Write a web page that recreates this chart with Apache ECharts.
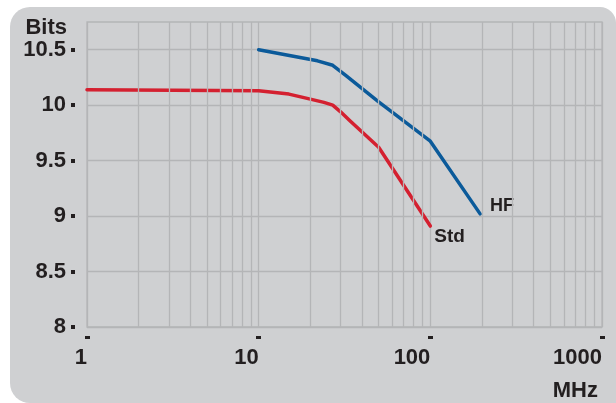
<!DOCTYPE html>
<html>
<head>
<meta charset="utf-8">
<script src="https://cdn.jsdelivr.net/npm/echarts@6/dist/echarts.min.js"></script>
<style>
  html, body { margin: 0; padding: 0; background: #ffffff; }
  #bg { position: absolute; left: 10px; top: 7px; width: 606px; height: 396px; border-radius: 20px 16px 0 20px; background: #cfd0d2; }
  #chart { position: absolute; left: 0; top: 0; width: 616px; height: 403px; }
</style>
</head>
<body>
<div id="bg"></div>
<div id="chart"></div>
<script>
// Data
const freqStd = [1, 10, 15, 20, 24, 27, 30, 34, 50, 100];
const bitsStd = [10.14, 10.13, 10.10, 10.055, 10.025, 10.0, 9.94, 9.86, 9.62, 8.91];
const freqHF = [10, 22, 27, 32, 50, 100, 195];
const bitsHF = [10.5, 10.40, 10.36, 10.27, 10.03, 9.675, 9.02];
const yTickValues = [8, 8.5, 9, 9.5, 10, 10.5];
const minorGridValues = [2, 3, 4, 5, 6, 7, 8, 9, 20, 30, 40, 50, 60, 70, 80, 90, 200, 300, 400, 500, 600, 700, 800, 900];
const seriesNames = ['Std', 'HF'];

const FONT = "'Liberation Sans', Arial, sans-serif";
const TEXT = '#231f20';
const GRID = '#b4b5b7';

const chart = echarts.init(document.getElementById('chart'), null, { renderer: 'canvas' });

const pairs = (xs, ys) => xs.map((x, i) => [x, ys[i]]);

chart.setOption({
  backgroundColor: 'transparent',
  animation: false,
  grid: {
    left: 87, right: 14, top: 22, bottom: 76,
    show: true, borderColor: GRID, borderWidth: 1.3, backgroundColor: 'transparent'
  },
  xAxis: {
    type: 'log',
    logBase: 10,
    min: 1,
    max: 1000,
    offset: 9,
    name: 'MHz',
    nameLocation: 'end',
    nameGap: -4,
    nameTextStyle: {
      fontFamily: FONT, fontWeight: 'bold', fontSize: 22, color: TEXT,
      align: 'right', verticalAlign: 'top', padding: [44, 0, 0, 0]
    },
    axisLine: { show: false },
    axisTick: { show: true, length: 3, lineStyle: { color: TEXT, width: 5 } },
    axisLabel: {
      fontFamily: FONT, fontWeight: 'bold', fontSize: 22, color: TEXT,
      align: 'right', margin: 11,
      formatter: v => String(v)
    },
    splitLine: { show: true, lineStyle: { color: GRID, width: 1.3 } },
    minorTick: { show: false },
    minorSplitLine: { show: false }
  },
  yAxis: {
    type: 'value',
    min: 8,
    max: 10.75,
    offset: 12,
    name: 'Bits',
    nameLocation: 'end',
    nameGap: -7,
    nameTextStyle: {
      fontFamily: FONT, fontWeight: 'bold', fontSize: 22, color: TEXT,
      align: 'right', verticalAlign: 'middle', padding: [0, 8, 0, 0]
    },
    axisLine: { show: false },
    axisTick: { show: true, length: 4, customValues: yTickValues, lineStyle: { color: TEXT, width: 4 } },
    axisLabel: {
      customValues: yTickValues,
      fontFamily: FONT, fontWeight: 'bold', fontSize: 22, color: TEXT,
      margin: 9
    },
    splitLine: { show: true, lineStyle: { color: GRID, width: 1.3 } }
  },
  series: [
    {
      type: 'line',
      name: 'minor grid',
      data: [],
      silent: true,
      z: 1,
      markLine: {
        silent: true,
        symbol: ['none', 'none'],
        label: { show: false },
        lineStyle: { color: GRID, width: 1.3, type: 'solid' },
        emphasis: { disabled: true },
        animation: false,
        data: minorGridValues.map(v => ({ xAxis: v }))
      }
    },
    {
      type: 'line',
      name: seriesNames[0],
      data: pairs(freqStd, bitsStd),
      showSymbol: false,
      smooth: false,
      z: 3,
      lineStyle: { color: '#d42030', width: 3.5, cap: 'round', join: 'round' },
      itemStyle: { color: '#d42030' },
      endLabel: {
        show: true, formatter: '{a}', offset: [-4, 11],
        fontFamily: FONT, fontWeight: 'bold', fontSize: 19, color: TEXT
      }
    },
    {
      type: 'line',
      name: seriesNames[1],
      data: pairs(freqHF, bitsHF),
      showSymbol: false,
      smooth: false,
      z: 3,
      lineStyle: { color: '#0b5a9a', width: 3.5, cap: 'round', join: 'round' },
      itemStyle: { color: '#0b5a9a' },
      endLabel: {
        show: true, formatter: '{a}', offset: [2, -8],
        fontFamily: FONT, fontWeight: 'bold', fontSize: 18, color: TEXT
      }
    }
  ]
});
</script>
</body>
</html>
